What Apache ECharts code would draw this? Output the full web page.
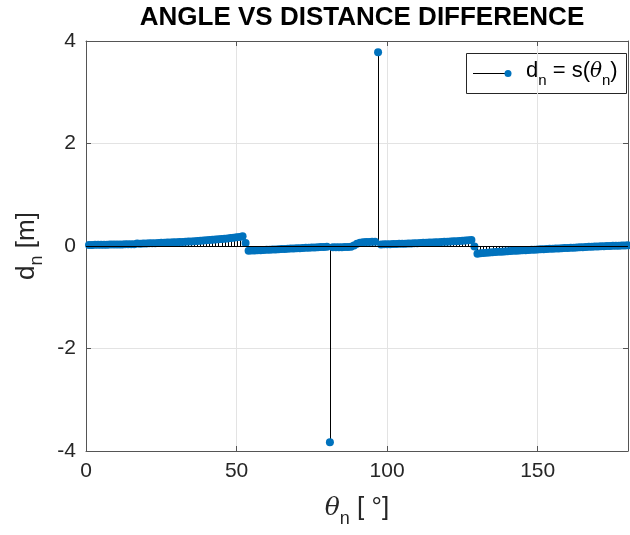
<!DOCTYPE html>
<html>
<head>
<meta charset="utf-8">
<script src="https://cdn.jsdelivr.net/npm/echarts@6/dist/echarts.min.js"></script>
<style>
  html, body { margin: 0; padding: 0; background: #fff; }
  #main { width: 630px; height: 535px; }
</style>
</head>
<body>
<div id="main"></div>
<script>
// theta starts at 1 degree, one sample per degree
var thetaStart = 1;
// d_n values, theta = 1 .. 180
var dist = [
  0.020, 0.021, 0.022, 0.023, 0.024, 0.025, 0.026, 0.027, 0.028, 0.029,
  0.030, 0.031, 0.032, 0.033, 0.034, 0.035, 0.050, 0.046, 0.048, 0.050,
  0.052, 0.054, 0.056, 0.058, 0.061, 0.063, 0.066, 0.068, 0.071, 0.074,
  0.077, 0.080, 0.083, 0.087, 0.090, 0.094, 0.098, 0.102, 0.106, 0.110,
  0.115, 0.120, 0.125, 0.130, 0.136, 0.142, 0.148, 0.155, 0.162, 0.170,
  0.178, 0.188, 0.060, -0.095, -0.090, -0.087, -0.084, -0.081, -0.078, -0.075,
  -0.072, -0.069, -0.066, -0.063, -0.060, -0.057, -0.054, -0.051, -0.048, -0.045,
  -0.042, -0.039, -0.036, -0.033, -0.030, -0.027, -0.024, -0.021, -0.018, -0.015,
  -3.83, -0.025, -0.024, -0.023, -0.022, -0.021, -0.020, -0.015, 0.010, 0.045,
  0.065, 0.075, 0.078, 0.080, 0.081, 0.082, 3.78, 0.030, 0.032, 0.034,
  0.036, 0.038, 0.040, 0.042, 0.044, 0.046, 0.049, 0.051, 0.053, 0.056,
  0.058, 0.061, 0.063, 0.066, 0.069, 0.072, 0.075, 0.078, 0.081, 0.084,
  0.087, 0.091, 0.094, 0.098, 0.102, 0.106, 0.110, 0.115, -0.010, -0.150,
  -0.140, -0.135, -0.130, -0.126, -0.122, -0.118, -0.114, -0.110, -0.106, -0.102,
  -0.098, -0.095, -0.091, -0.088, -0.084, -0.081, -0.078, -0.075, -0.071, -0.068,
  -0.065, -0.062, -0.059, -0.056, -0.053, -0.050, -0.047, -0.044, -0.041, -0.038,
  -0.035, -0.032, -0.029, -0.026, -0.023, -0.020, -0.017, -0.014, -0.011, -0.008,
  -0.005, -0.003, -0.001, 0.001, 0.003, 0.005, 0.007, 0.009, 0.011, 0.013
];
var xTicks = [0, 50, 100, 150];
var yTicks = [-4, -2, 0, 2, 4];

var points = dist.map(function (v, i) { return [thetaStart + i, v]; });

var axisCol = '#555';
var textCol = '#262626';
var font = 'Liberation Sans';

var subRich = {
  a: { fontFamily: font, fontSize: 26, color: textCol, verticalAlign: 'bottom', padding: [0, 0, 7, 0] },
  s: { fontFamily: font, fontSize: 18, color: textCol, verticalAlign: 'bottom' },
  t: { fontFamily: 'DejaVu Serif', fontStyle: 'italic', fontSize: 25, color: textCol, verticalAlign: 'bottom', padding: [0, 0, 7, 0] }
};
var legRich = {
  a: { fontFamily: font, fontSize: 22, color: '#000', verticalAlign: 'bottom', padding: [0, 0, 6, 0] },
  s: { fontFamily: font, fontSize: 15, color: '#000', verticalAlign: 'bottom' },
  t: { fontFamily: 'DejaVu Serif', fontStyle: 'italic', fontSize: 20, color: '#000', verticalAlign: 'bottom', padding: [0, 0, 6, 0] }
};

function baseX(pos) {
  return {
    type: 'value', position: pos, min: 0, max: 180, interval: 50,
    axisLine: { show: true, onZero: false, lineStyle: { color: axisCol, width: 1 } },
    axisTick: { show: true, inside: true, length: 5, lineStyle: { color: axisCol } },
    splitLine: { show: false },
    axisLabel: { show: false }
  };
}
function baseY(pos) {
  return {
    type: 'value', position: pos, min: -4, max: 4, interval: 2,
    axisLine: { show: true, onZero: false, lineStyle: { color: axisCol, width: 1 } },
    axisTick: { show: true, inside: true, length: 5, lineStyle: { color: axisCol } },
    splitLine: { show: false },
    axisLabel: { show: false }
  };
}

var xBottom = baseX('bottom');
xBottom.splitLine = { show: true, lineStyle: { color: '#e3e3e3', width: 1 } };
xBottom.axisLabel = { show: true, showMaxLabel: false, margin: 10, fontFamily: font, fontSize: 21, color: textCol };
xBottom.name = '{t|θ}{s|n}{a| [ °]}';
xBottom.nameLocation = 'middle';
xBottom.nameGap = 44;
xBottom.nameTextStyle = { rich: subRich };

var yLeft = baseY('left');
yLeft.splitLine = { show: true, lineStyle: { color: '#e3e3e3', width: 1 } };
yLeft.axisLabel = { show: true, margin: 10, fontFamily: font, fontSize: 21, color: textCol };
yLeft.name = '{a|d}{s|n}{a| [m]}';
yLeft.nameLocation = 'middle';
yLeft.nameGap = 38;
yLeft.nameTextStyle = { rich: subRich };

var option = {
  animation: false,
  backgroundColor: '#fff',
  grid: { left: 86, right: 2, top: 41, bottom: 84 },
  xAxis: [xBottom, baseX('top')],
  yAxis: [yLeft, baseY('right')],
  graphic: [
    {
      type: 'text', x: 362, y: 18, z: 10,
      style: {
        text: 'ANGLE VS DISTANCE DIFFERENCE', fill: '#000',
        font: 'bold 26px "Liberation Sans"', textAlign: 'center', textVerticalAlign: 'middle'
      }
    },
    {
      type: 'group', z: 10,
      children: [
        { type: 'rect', shape: { x: 466.5, y: 53.5, width: 160, height: 40 }, style: { fill: '#fff', stroke: '#262626', lineWidth: 1 } },
        { type: 'line', shape: { x1: 473, y1: 73.5, x2: 508, y2: 73.5 }, style: { stroke: '#000', lineWidth: 1 } },
        { type: 'circle', shape: { cx: 508, cy: 73.5, r: 3.5 }, style: { fill: '#0072BD' } },
        {
          type: 'text', x: 526, y: 74,
          style: { text: '{a|d}{s|n}{a| = s(}{t|θ}{s|n}{a|)}', rich: legRich, textVerticalAlign: 'middle' }
        }
      ]
    }
  ],
  series: [
    {
      name: 'stems',
      type: 'custom',
      xAxisIndex: 0, yAxisIndex: 0,
      data: points,
      renderItem: function (params, api) {
        var p0 = api.coord([api.value(0), 0]);
        var p1 = api.coord([api.value(0), api.value(1)]);
        var x = Math.round(p0[0]) + 0.5;
        return {
          type: 'line',
          shape: { x1: x, y1: p0[1], x2: x, y2: p1[1] },
          style: { stroke: '#000', lineWidth: 1 }
        };
      },
      markLine: {
        silent: true, symbol: ['none', 'none'],
        label: { show: false },
        lineStyle: { color: '#000', width: 1, type: 'solid' },
        data: [{ yAxis: 0 }]
      }
    },
    {
      name: 'd_n = s(theta_n)',
      type: 'scatter',
      xAxisIndex: 0, yAxisIndex: 0,
      data: points,
      symbol: 'circle',
      symbolSize: 8,
      itemStyle: { color: '#0072BD', opacity: 1 }
    }
  ]
};

var myChart = echarts.init(document.getElementById('main'));
myChart.setOption(option);
</script>
</body>
</html>
